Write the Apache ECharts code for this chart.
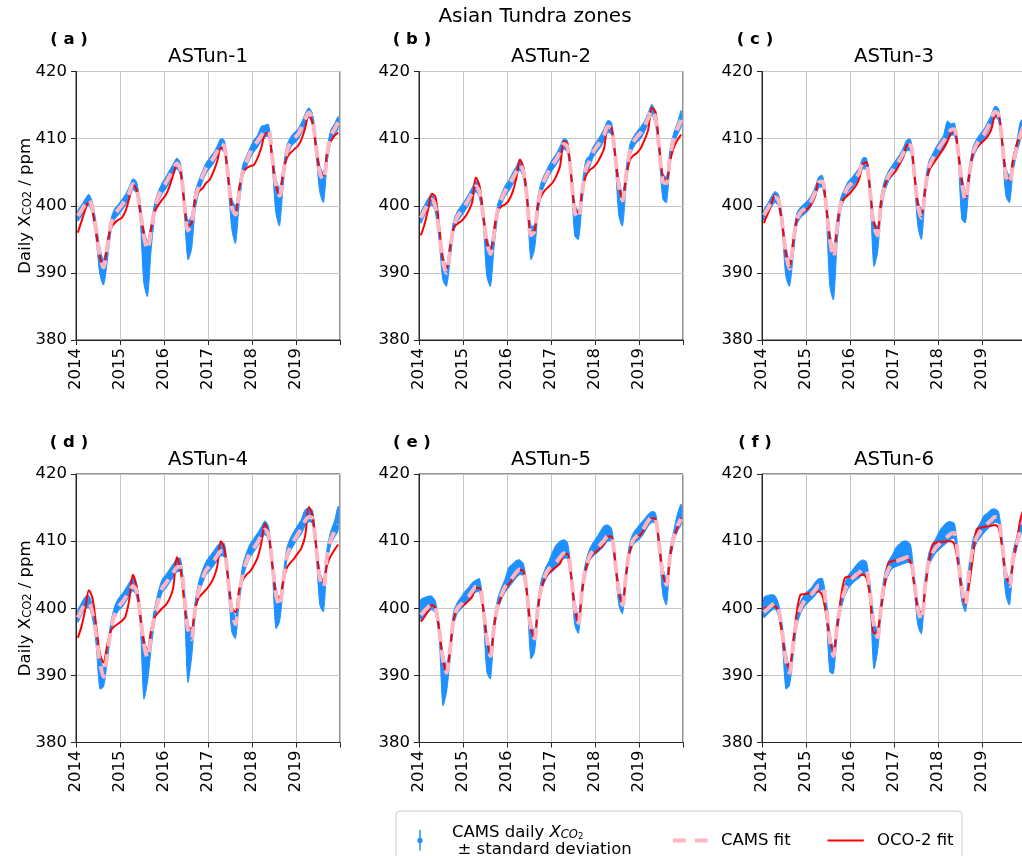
<!DOCTYPE html>
<html>
<head>
<meta charset="utf-8">
<script src="https://cdn.jsdelivr.net/npm/echarts/dist/echarts.min.js"></script>
<style>
html, body { margin: 0; padding: 0; background: #ffffff; }
#chart { width: 1022px; height: 856px; }
</style>
</head>
<body>
<div id="chart"></div>
<script>
// Asian Tundra zones: monthly CAMS and OCO-2 XCO2 (ppm), Jan 2014 .. Dec 2019
const zoneNames = ['ASTun-1', 'ASTun-2', 'ASTun-3', 'ASTun-4', 'ASTun-5', 'ASTun-6'];
const panelTags = ['( a )', '( b )', '( c )', '( d )', '( e )', '( f )'];
const yearTicks = [2014, 2015, 2016, 2017, 2018, 2019];

// ASTun-1
const camsFit1 = [
  398.5, 399.3, 400.2, 400.9, 399.6, 396.3, 392.6, 390.8, 393.6, 397.2, 398.7, 399.4,
  400.1, 400.9, 401.9, 403.2, 402.7, 399.3, 395.6, 393.5, 396.4, 399.6, 401.4, 402.6,
  403.4, 404.4, 405.4, 406.3, 405.4, 400.6, 396.3, 397.3, 401.1, 402.9, 404.4, 405.6,
  406.4, 407.1, 408.1, 409.2, 408.8, 404.3, 399.8, 398.7, 401.9, 405.2, 406.6, 407.9,
  408.9, 409.6, 410.4, 411.1, 411.2, 407.3, 403.1, 401.5, 404.6, 408.1, 409.4, 410.1,
  410.6, 411.6, 412.9, 413.9, 412.8, 408.7, 404.9, 403.8, 407.6, 410.4, 411.4, 412.4];
const oco2Fit1 = [
  396.0, 397.7, 399.4, 400.6, 399.2, 395.9, 392.4, 390.9, 394.2, 396.7, 397.4, 397.9,
  398.2, 399.2, 401.1, 403.1, 402.4, 399.2, 395.9, 394.3, 396.7, 399.2, 400.1, 400.9,
  401.6, 402.9, 404.6, 406.1, 405.1, 400.6, 397.0, 397.4, 400.9, 402.1, 402.6, 403.4,
  403.9, 405.1, 406.6, 408.6, 408.4, 404.1, 399.9, 399.1, 402.6, 404.9, 405.6, 405.9,
  406.1, 407.1, 408.6, 410.6, 410.9, 406.9, 403.1, 401.6, 405.1, 407.1, 407.9, 408.4,
  408.9, 409.9, 411.6, 413.6, 412.4, 408.6, 405.1, 404.4, 408.1, 409.6, 410.4, 410.9];
const camsDaily1 = [
  398.5, 399.3, 400.2, 400.9, 399.6, 396.2, 391.8, 390.1, 393.1, 397.0, 398.7, 399.4,
  400.1, 400.9, 401.9, 403.2, 402.7, 399.2, 392.6, 390.6, 395.5, 399.5, 401.4, 402.6,
  403.4, 404.4, 405.4, 406.3, 405.4, 400.5, 394.9, 396.0, 400.8, 402.9, 404.4, 405.6,
  406.4, 407.1, 408.1, 409.2, 408.8, 404.2, 398.8, 397.2, 401.6, 405.2, 406.6, 407.9,
  408.9, 409.6, 410.7, 411.1, 411.2, 407.2, 401.6, 399.8, 404.3, 408.1, 409.4, 410.1,
  410.6, 411.6, 412.9, 413.9, 412.8, 408.6, 404.0, 402.7, 407.5, 410.4, 411.4, 412.4];
const camsSd1 = [
  0.8, 0.8, 0.8, 0.8, 0.9, 1.2, 2.0, 1.9, 1.5, 1.0, 0.8, 0.8,
  0.8, 0.8, 0.9, 0.8, 0.9, 1.2, 4.1, 4.1, 2.0, 1.0, 0.8, 0.8,
  0.9, 0.9, 0.8, 0.8, 0.9, 1.2, 2.9, 2.5, 1.4, 0.9, 0.8, 0.8,
  0.8, 0.8, 0.8, 0.8, 0.9, 1.1, 2.3, 2.8, 1.4, 0.9, 0.8, 0.8,
  0.9, 0.9, 1.1, 0.9, 0.9, 1.1, 2.6, 2.8, 1.3, 0.9, 0.8, 0.8,
  0.8, 0.8, 0.8, 0.7, 0.9, 1.1, 2.0, 2.2, 1.1, 0.9, 0.8, 0.9];

// ASTun-2
const camsFit2 = [
  398.2, 399.3, 400.3, 400.9, 399.8, 396.0, 391.8, 390.0, 393.5, 397.0, 398.4, 399.2,
  400.0, 400.9, 401.9, 402.9, 402.0, 398.5, 394.5, 392.8, 396.0, 399.4, 401.0, 402.2,
  403.0, 404.0, 405.0, 406.1, 405.0, 401.0, 395.6, 396.2, 400.5, 402.9, 404.2, 405.3,
  406.2, 407.0, 408.0, 409.2, 408.8, 404.5, 399.0, 398.1, 402.0, 405.5, 406.6, 408.0,
  408.8, 409.6, 410.6, 411.8, 411.5, 407.5, 403.0, 400.8, 404.5, 408.2, 409.5, 410.3,
  410.9, 411.8, 413.0, 414.3, 413.0, 408.5, 403.6, 403.4, 407.5, 410.0, 411.5, 412.8];
const oco2Fit2 = [
  395.6, 397.2, 399.5, 401.8, 401.3, 397.0, 392.0, 390.6, 394.0, 396.8, 397.3, 397.7,
  398.3, 399.2, 400.5, 404.2, 403.0, 398.8, 394.5, 393.5, 396.5, 399.3, 399.9, 400.2,
  400.8, 402.0, 404.0, 406.9, 405.6, 401.0, 396.2, 396.3, 400.3, 401.6, 402.4, 402.9,
  403.5, 404.5, 406.0, 409.6, 409.2, 404.5, 399.5, 399.0, 402.2, 404.4, 405.3, 405.7,
  406.3, 407.3, 408.6, 411.8, 411.6, 407.5, 403.0, 401.1, 404.3, 406.8, 407.5, 407.9,
  408.6, 409.8, 411.3, 414.6, 414.0, 409.0, 404.3, 403.7, 406.7, 408.7, 409.8, 410.6];
const camsDaily2 = [
  398.2, 399.3, 400.3, 400.9, 399.8, 395.9, 390.9, 389.5, 393.3, 397.0, 398.4, 399.2,
  400.0, 400.9, 401.9, 402.9, 402.0, 398.5, 392.5, 390.9, 395.5, 399.4, 401.0, 402.2,
  403.0, 404.0, 405.0, 406.1, 405.0, 400.9, 394.5, 395.3, 400.3, 402.9, 404.2, 405.3,
  406.2, 407.0, 408.0, 409.2, 408.8, 404.5, 397.9, 397.1, 401.8, 405.8, 406.6, 408.0,
  408.8, 409.6, 410.6, 411.8, 411.5, 407.5, 401.3, 399.4, 404.3, 408.2, 409.5, 410.3,
  410.9, 411.8, 413.0, 414.3, 413.0, 408.5, 402.9, 402.4, 407.4, 410.0, 411.5, 413.0];
const camsSd2 = [
  0.8, 0.8, 0.8, 0.8, 0.9, 1.1, 1.9, 1.5, 1.3, 0.9, 0.8, 0.8,
  0.8, 0.8, 0.8, 0.8, 0.9, 1.0, 3.0, 2.9, 1.5, 0.9, 0.8, 0.8,
  0.8, 0.9, 0.8, 0.8, 0.9, 1.1, 2.5, 1.8, 1.3, 0.9, 0.8, 0.8,
  0.8, 0.8, 0.9, 0.8, 0.9, 1.0, 2.4, 2.1, 1.3, 1.0, 0.9, 0.8,
  0.8, 0.9, 0.9, 0.9, 0.9, 1.0, 2.8, 2.4, 1.3, 0.9, 0.8, 0.8,
  0.9, 0.8, 0.8, 0.8, 0.9, 1.0, 1.9, 1.9, 1.1, 0.9, 0.9, 1.2];

// ASTun-3
const camsFit3 = [
  398.6, 399.5, 400.5, 401.3, 400.8, 397.5, 393.0, 390.6, 394.5, 398.0, 399.0, 399.5,
  400.0, 400.8, 402.0, 403.5, 403.6, 400.0, 395.0, 392.3, 397.0, 400.3, 401.7, 402.8,
  403.4, 404.1, 404.9, 406.3, 406.2, 402.0, 397.0, 395.6, 400.5, 403.0, 404.4, 405.2,
  406.0, 406.8, 407.8, 409.0, 409.0, 405.0, 400.0, 398.2, 402.5, 405.7, 406.9, 408.0,
  408.8, 409.6, 410.4, 411.3, 411.4, 408.0, 403.5, 400.8, 404.5, 407.8, 409.1, 409.9,
  410.6, 411.6, 412.7, 414.0, 413.6, 409.5, 404.5, 403.3, 406.3, 408.7, 410.6, 412.0];
const oco2Fit3 = [
  397.4, 398.7, 400.2, 401.6, 400.5, 397.3, 393.0, 390.8, 394.5, 398.0, 398.7, 399.2,
  399.6, 400.3, 401.5, 403.6, 403.5, 400.0, 395.2, 392.8, 397.0, 400.4, 401.1, 401.6,
  402.2, 402.9, 404.0, 406.2, 406.5, 402.3, 397.5, 396.3, 400.8, 403.1, 404.1, 404.6,
  405.2, 406.2, 407.3, 409.0, 409.2, 405.0, 400.3, 398.6, 402.5, 405.2, 406.1, 406.9,
  407.7, 408.5, 409.5, 410.8, 411.2, 408.0, 403.7, 401.1, 404.6, 407.7, 408.6, 409.2,
  409.7, 410.3, 411.3, 413.3, 413.4, 409.5, 404.7, 403.8, 407.0, 409.2, 410.8, 412.0];
const camsDaily3 = [
  398.6, 399.5, 400.5, 401.3, 400.8, 397.4, 391.8, 389.9, 394.0, 398.0, 399.0, 399.5,
  400.0, 400.8, 402.0, 403.5, 403.6, 399.9, 392.1, 389.8, 396.3, 400.3, 401.7, 402.8,
  403.4, 404.1, 404.9, 406.3, 406.2, 401.9, 394.5, 394.9, 400.4, 403.0, 404.4, 405.2,
  406.0, 406.8, 407.8, 409.0, 409.0, 405.0, 399.0, 397.2, 402.4, 405.7, 406.9, 408.0,
  408.8, 409.6, 411.1, 411.3, 411.4, 408.0, 401.3, 399.8, 404.4, 407.8, 409.1, 409.9,
  410.6, 411.6, 412.7, 414.0, 413.6, 409.5, 403.6, 402.5, 406.3, 408.7, 411.2, 412.0];
const camsSd3 = [
  0.8, 0.8, 0.8, 0.8, 0.9, 1.1, 2.3, 1.9, 1.5, 0.9, 0.8, 0.8,
  0.8, 0.8, 0.8, 0.8, 0.9, 1.1, 4.1, 3.8, 1.8, 0.9, 0.8, 0.8,
  0.8, 0.8, 0.8, 0.8, 0.9, 1.1, 3.5, 1.9, 1.2, 0.9, 0.8, 0.8,
  0.8, 0.8, 0.8, 0.8, 0.9, 1.0, 2.0, 2.2, 1.2, 0.9, 0.8, 0.8,
  0.8, 0.9, 1.5, 0.9, 0.9, 1.0, 3.3, 2.3, 1.1, 0.9, 0.8, 0.8,
  0.8, 0.8, 0.8, 0.8, 0.9, 1.0, 2.1, 2.0, 1.1, 0.9, 1.4, 0.9];

// ASTun-4
const camsFit4 = [
  398.6, 399.7, 400.6, 400.8, 399.3, 396.0, 392.0, 389.8, 393.0, 396.8, 399.0, 400.2,
  400.8, 401.6, 402.5, 403.3, 402.6, 399.0, 394.8, 392.6, 396.0, 399.0, 401.3, 403.0,
  403.7, 404.5, 405.3, 406.1, 406.2, 402.0, 397.0, 395.4, 400.0, 402.7, 404.4, 405.7,
  406.3, 407.0, 407.8, 408.5, 408.4, 404.0, 399.5, 397.6, 402.0, 405.2, 407.0, 408.3,
  409.0, 409.8, 410.8, 411.7, 411.0, 406.8, 402.2, 400.3, 404.0, 407.7, 409.2, 410.2,
  411.0, 412.0, 413.0, 413.6, 413.4, 409.0, 404.5, 403.1, 408.0, 410.2, 411.4, 412.5];
const oco2Fit4 = [
  395.6, 397.3, 399.8, 402.7, 401.5, 397.5, 393.3, 391.9, 394.5, 396.7, 397.3, 397.7,
  398.1, 398.8, 401.2, 405.0, 403.2, 399.0, 395.0, 393.8, 396.8, 398.7, 399.4, 400.0,
  400.5, 401.4, 403.0, 407.6, 405.8, 401.0, 397.2, 397.0, 400.0, 401.6, 402.2, 402.8,
  403.5, 404.5, 406.2, 410.0, 408.8, 404.5, 400.2, 399.4, 402.8, 404.2, 405.0, 405.5,
  406.4, 407.5, 409.6, 412.6, 411.2, 406.5, 402.3, 401.5, 404.0, 406.0, 406.8, 407.4,
  408.2, 409.0, 410.8, 415.1, 413.8, 409.3, 404.8, 404.0, 406.5, 407.8, 408.7, 409.5];
const camsDaily4 = [
  398.8, 399.9, 400.8, 401.0, 399.4, 395.8, 390.5, 389.7, 393.0, 397.0, 399.3, 400.5,
  401.1, 401.9, 402.8, 403.6, 402.8, 398.9, 391.2, 391.3, 395.5, 399.2, 401.6, 403.3,
  404.0, 404.8, 405.6, 406.4, 406.4, 401.9, 393.5, 394.5, 399.9, 403.0, 404.7, 406.0,
  406.7, 407.4, 408.2, 408.8, 408.6, 404.0, 398.5, 397.1, 401.9, 405.5, 407.3, 408.6,
  409.4, 410.2, 411.1, 412.0, 411.2, 406.8, 400.1, 399.7, 403.9, 408.0, 409.5, 410.5,
  411.4, 412.2, 413.5, 413.9, 413.6, 409.0, 403.0, 401.8, 407.9, 410.5, 411.8, 413.4];
const camsSd4 = [
  0.9, 0.9, 0.9, 0.9, 0.9, 1.3, 2.5, 1.4, 1.0, 0.9, 0.9, 0.9,
  1.0, 1.0, 1.0, 1.0, 1.0, 1.1, 4.7, 2.3, 1.5, 1.0, 1.0, 1.0,
  1.0, 1.0, 1.0, 1.0, 1.0, 1.1, 4.5, 2.0, 1.1, 1.0, 1.0, 1.0,
  1.1, 1.1, 1.1, 1.0, 1.0, 1.0, 2.0, 1.6, 1.1, 1.0, 1.0, 1.0,
  1.0, 1.0, 1.0, 1.0, 1.0, 1.0, 3.1, 1.7, 1.1, 1.0, 1.0, 1.0,
  1.0, 1.1, 1.2, 1.0, 1.0, 1.0, 2.5, 2.3, 1.1, 1.0, 1.2, 1.8];

// ASTun-5
const camsFit5 = [
  399.0, 399.6, 400.2, 400.6, 400.0, 396.8, 392.5, 390.4, 394.0, 398.6, 400.0, 400.6,
  401.2, 401.8, 402.5, 403.2, 403.2, 400.0, 395.5, 392.9, 397.5, 400.5, 402.0, 403.2,
  403.9, 404.6, 405.3, 405.8, 405.6, 402.0, 397.0, 395.5, 400.5, 403.5, 405.0, 405.9,
  406.3, 406.9, 407.6, 408.2, 408.2, 404.8, 400.0, 397.8, 402.8, 406.0, 407.7, 408.6,
  409.0, 409.5, 410.1, 410.8, 410.7, 407.0, 402.5, 400.5, 405.2, 408.8, 410.2, 410.8,
  411.3, 412.1, 413.0, 413.6, 413.4, 409.5, 405.0, 403.5, 408.0, 410.6, 412.3, 413.3];
const oco2Fit5 = [
  398.0, 398.7, 399.6, 400.5, 400.0, 396.8, 392.5, 390.5, 394.0, 398.4, 399.8, 400.3,
  400.6, 401.1, 401.7, 403.0, 403.0, 400.0, 395.5, 393.0, 397.4, 400.3, 401.7, 402.8,
  403.6, 404.3, 405.0, 405.7, 405.5, 402.0, 397.0, 395.6, 400.3, 403.2, 404.6, 405.3,
  405.8, 406.2, 406.7, 408.0, 408.1, 404.8, 400.0, 397.9, 402.6, 405.8, 407.3, 408.1,
  408.5, 409.0, 409.6, 410.7, 410.7, 407.0, 402.5, 400.6, 405.0, 408.5, 409.9, 410.6,
  411.0, 411.8, 412.7, 413.4, 413.3, 409.5, 405.0, 403.6, 407.8, 410.4, 412.0, 413.5];
const camsDaily5 = [
  399.8, 400.2, 400.6, 400.8, 400.1, 396.7, 389.5, 389.5, 393.8, 398.6, 400.1, 400.8,
  401.5, 402.1, 402.8, 403.3, 403.4, 400.0, 393.5, 391.7, 397.5, 400.6, 402.2, 403.4,
  404.6, 405.2, 405.8, 406.1, 405.7, 402.0, 395.3, 395.0, 400.5, 403.6, 405.1, 406.1,
  407.0, 407.8, 408.4, 408.8, 408.6, 404.8, 399.3, 397.6, 402.8, 406.1, 407.9, 408.8,
  409.4, 410.1, 410.8, 411.2, 410.9, 407.0, 402.0, 400.4, 405.2, 408.9, 410.4, 411.0,
  411.6, 412.3, 413.1, 413.6, 413.4, 409.5, 404.0, 402.5, 408.0, 410.7, 412.8, 414.0];
const camsSd5 = [
  1.5, 1.4, 1.2, 1.0, 0.9, 1.1, 4.0, 2.0, 1.3, 1.0, 0.8, 0.9,
  1.0, 1.0, 1.0, 0.9, 1.0, 1.0, 3.0, 2.2, 1.0, 0.9, 0.9, 1.0,
  1.5, 1.4, 1.3, 1.1, 0.9, 1.0, 2.8, 1.5, 1.0, 0.9, 0.9, 1.0,
  1.5, 1.7, 1.6, 1.4, 1.2, 1.0, 1.8, 1.3, 1.0, 0.9, 0.9, 1.0,
  1.2, 1.4, 1.5, 1.2, 1.0, 1.0, 1.5, 1.2, 1.0, 0.9, 0.9, 1.0,
  1.1, 1.0, 0.9, 0.8, 0.8, 1.0, 2.0, 2.0, 1.0, 0.9, 1.3, 1.5];

// ASTun-6
const camsFit6 = [
  399.4, 399.9, 400.4, 400.7, 399.8, 396.5, 392.3, 390.4, 394.5, 398.2, 400.0, 401.0,
  401.6, 402.1, 402.7, 403.4, 403.4, 400.3, 395.3, 392.9, 397.5, 400.5, 402.5, 403.8,
  404.4, 404.9, 405.3, 405.8, 405.7, 402.2, 397.5, 395.7, 400.5, 404.2, 405.8, 406.7,
  407.0, 407.2, 407.4, 407.6, 407.5, 404.0, 399.8, 398.2, 403.5, 407.0, 408.3, 409.1,
  409.6, 410.1, 410.6, 411.1, 411.2, 407.5, 403.0, 400.5, 405.5, 409.0, 410.5, 411.4,
  412.0, 412.6, 413.1, 413.6, 413.4, 409.5, 404.8, 403.3, 407.5, 409.6, 411.7, 413.3];
const oco2Fit6 = [
  399.9, 400.2, 400.3, 400.3, 399.3, 396.0, 392.5, 391.0, 395.0, 399.5, 402.0, 402.1,
  402.2, 402.3, 402.4, 402.5, 401.8, 399.0, 395.5, 393.6, 397.0, 401.5, 404.4, 404.7,
  404.7, 404.8, 404.9, 405.0, 404.5, 401.5, 396.3, 396.6, 400.0, 403.5, 406.8, 407.0,
  407.2, 407.3, 407.4, 407.4, 406.8, 403.5, 400.0, 399.2, 402.8, 406.8, 409.5, 409.8,
  409.9, 409.9, 410.0, 410.0, 409.5, 406.5, 402.5, 400.6, 403.5, 407.5, 411.7, 412.0,
  412.1, 412.2, 412.3, 412.4, 412.0, 409.0, 404.8, 403.8, 406.9, 410.0, 413.3, 415.0];
const camsDaily6 = [
  400.1, 400.5, 400.8, 400.9, 399.8, 396.4, 390.8, 390.0, 394.3, 398.2, 400.1, 401.1,
  401.7, 402.2, 402.9, 403.5, 403.5, 400.2, 393.5, 392.2, 397.4, 400.6, 402.6, 403.9,
  404.6, 405.2, 405.7, 406.1, 405.9, 402.2, 394.8, 395.1, 400.4, 404.3, 406.0, 406.9,
  407.6, 408.0, 408.3, 408.4, 408.1, 403.9, 399.2, 397.7, 403.4, 407.2, 408.5, 409.4,
  410.2, 410.8, 411.3, 411.6, 411.5, 407.4, 402.5, 400.5, 405.5, 409.2, 410.7, 411.6,
  412.5, 413.0, 413.5, 413.8, 413.5, 409.5, 403.9, 402.4, 407.5, 409.8, 411.9, 413.9];
const camsSd6 = [
  1.5, 1.4, 1.2, 1.0, 0.9, 1.2, 2.8, 1.5, 1.3, 0.9, 0.9, 0.9,
  0.9, 0.9, 1.0, 0.9, 0.9, 1.2, 3.0, 1.9, 1.1, 0.9, 0.9, 1.0,
  1.0, 1.1, 1.2, 1.1, 1.0, 1.2, 3.8, 1.6, 1.1, 1.0, 1.0, 1.0,
  1.4, 1.6, 1.7, 1.6, 1.4, 1.1, 1.7, 1.5, 1.1, 1.0, 1.0, 1.1,
  1.4, 1.5, 1.5, 1.3, 1.1, 1.1, 1.5, 1.0, 1.0, 1.0, 1.0, 1.1,
  1.3, 1.2, 1.2, 1.0, 0.9, 1.0, 1.9, 1.9, 1.0, 0.9, 1.1, 1.6];

const panels = [
  { fit: camsFit1, oco: oco2Fit1, daily: camsDaily1, sd: camsSd1 },
  { fit: camsFit2, oco: oco2Fit2, daily: camsDaily2, sd: camsSd2 },
  { fit: camsFit3, oco: oco2Fit3, daily: camsDaily3, sd: camsSd3 },
  { fit: camsFit4, oco: oco2Fit4, daily: camsDaily4, sd: camsSd4 },
  { fit: camsFit5, oco: oco2Fit5, daily: camsDaily5, sd: camsSd5 },
  { fit: camsFit6, oco: oco2Fit6, daily: camsDaily6, sd: camsSd6 }
];

// mid-month positions in decimal years
const monthTimes = camsFit1.map((_, i) => 2014 + (i + 0.5) / 12);

const FONT = 'DejaVu Sans';
const BLUE = '#1e90ff';
const PINK = '#ffb6c1';
const RED = '#ff0000';
const AXIS_COLOR = '#262626';
const GRID_COLOR = '#c6c6c6';

const colLeft = [76, 419, 762];
const rowTop = [71.5, 474];
const plotW = 264;
const plotH = 268.5;

const grids = [], xAxes = [], yAxes = [], series = [], graphics = [];

panels.forEach((p, k) => {
  const col = k % 3, row = Math.floor(k / 3);
  const left = colLeft[col], top = rowTop[row];
  grids.push({ left: left, top: top, width: plotW, height: plotH, show: true,
    borderColor: AXIS_COLOR, borderWidth: 1, backgroundColor: 'transparent',
    containLabel: false, outerBoundsMode: 'none' });
  xAxes.push({
    type: 'value', gridIndex: k, min: 2014, max: 2020, interval: 1,
    axisLine: { show: true, onZero: false, lineStyle: { color: AXIS_COLOR, width: 1 } },
    axisTick: { show: true, length: 5, inside: false, lineStyle: { color: AXIS_COLOR, width: 1 } },
    axisLabel: { show: true, rotate: 90, margin: 8, fontSize: 16.5, fontFamily: FONT, color: '#000',
      showMinLabel: true, showMaxLabel: true,
      formatter: v => (yearTicks.indexOf(Math.round(v)) >= 0 ? String(Math.round(v)) : '') },
    splitLine: { show: true, lineStyle: { color: GRID_COLOR, width: 1 } }
  });
  yAxes.push({
    type: 'value', gridIndex: k, min: 380, max: 420, interval: 10,
    axisLine: { show: true, onZero: false, lineStyle: { color: AXIS_COLOR, width: 1 } },
    axisTick: { show: true, length: 5, inside: false, lineStyle: { color: AXIS_COLOR, width: 1 } },
    axisLabel: { show: true, margin: 9, fontSize: 16.5, fontFamily: FONT, color: '#000' },
    splitLine: { show: true, lineStyle: { color: GRID_COLOR, width: 1 } }
  });

  // CAMS daily values +/- standard deviation, drawn as a filled envelope
  series.push({
    type: 'custom', xAxisIndex: k, yAxisIndex: k, silent: true, z: 2,
    data: [[2017, 400]],
    renderItem: (params, api) => {
      const upper = [], lower = [];
      for (let i = 0; i < monthTimes.length; i++) {
        upper.push(api.coord([monthTimes[i], p.daily[i] + p.sd[i]]));
        lower.push(api.coord([monthTimes[i], p.daily[i] - p.sd[i]]));
      }
      return {
        type: 'polygon',
        shape: { points: upper.concat(lower.reverse()), smooth: 0.25 },
        style: { fill: BLUE, stroke: BLUE, lineWidth: 1 }
      };
    }
  });
  // OCO-2 fit
  series.push({
    type: 'line', xAxisIndex: k, yAxisIndex: k, silent: true, z: 3,
    data: monthTimes.map((t, i) => [t, p.oco[i]]),
    smooth: 0.3, showSymbol: false, symbol: 'none',
    lineStyle: { color: RED, width: 2 }
  });
  // CAMS fit
  series.push({
    type: 'line', xAxisIndex: k, yAxisIndex: k, silent: true, z: 4,
    data: monthTimes.map((t, i) => [t, p.fit[i]]),
    smooth: 0.3, showSymbol: false, symbol: 'none',
    lineStyle: { color: PINK, width: 4, type: [13, 8], cap: 'butt' }
  });

  // panel title and tag
  graphics.push({ type: 'text', x: left + plotW / 2, y: top - 14.5, silent: true,
    style: { text: zoneNames[k], fontSize: 19.8, fontFamily: FONT, fill: '#000', align: 'center', verticalAlign: 'middle' } });
  graphics.push({ type: 'text', x: left - 7, y: top - 31.5, silent: true,
    style: { text: panelTags[k], fontSize: 16.5, fontWeight: 'bold', fontFamily: FONT, fill: '#000', align: 'center', verticalAlign: 'middle' } });

  if (col === 0) {
    graphics.push({ type: 'text', x: 21, y: top + plotH / 2, rotation: Math.PI / 2, silent: true,
      style: {
        text: '{n|Daily X}{s|CO2}{n| / ppm}',
        align: 'center', verticalAlign: 'middle',
        rich: {
          n: { fontSize: 16.5, fontFamily: FONT, fill: '#000', lineHeight: 26, verticalAlign: 'bottom' },
          s: { fontSize: 11.5, fontFamily: FONT, fill: '#000', lineHeight: 12, verticalAlign: 'bottom' }
        }
      } });
  }
});

// figure title
graphics.push({ type: 'text', x: 535, y: 17, silent: true,
  style: { text: 'Asian Tundra zones', fontSize: 20, fontFamily: FONT, fill: '#000', align: 'center', verticalAlign: 'middle' } });

// legend box
graphics.push({ type: 'rect', silent: true, z: 10,
  shape: { x: 396, y: 811, width: 566, height: 70, r: 4 },
  style: { fill: '#ffffff', stroke: '#cccccc', lineWidth: 1 } });
graphics.push({ type: 'line', silent: true, z: 11,
  shape: { x1: 420, y1: 830, x2: 420, y2: 850.5 },
  style: { stroke: BLUE, lineWidth: 1.5 } });
graphics.push({ type: 'circle', silent: true, z: 11,
  shape: { cx: 420, cy: 840.4, r: 2.6 },
  style: { fill: BLUE } });
graphics.push({ type: 'text', x: 452, y: 827, silent: true, z: 11,
  style: {
    text: '{n|CAMS daily }{i|X}{s|CO}{t|2}',
    align: 'left', verticalAlign: 'middle',
    rich: {
      n: { fontSize: 16.5, fontFamily: FONT, fill: '#000', lineHeight: 28, verticalAlign: 'bottom' },
      i: { fontSize: 16.5, fontFamily: FONT, fontStyle: 'italic', fill: '#000', lineHeight: 28, verticalAlign: 'bottom' },
      s: { fontSize: 11.5, fontFamily: FONT, fontStyle: 'italic', fill: '#000', lineHeight: 13, verticalAlign: 'bottom' },
      t: { fontSize: 8.5, fontFamily: FONT, fill: '#000', lineHeight: 6, verticalAlign: 'bottom' }
    }
  } });
graphics.push({ type: 'text', x: 457.5, y: 850, silent: true, z: 11,
  style: { text: '\u00b1 standard deviation', fontSize: 16.5, fontFamily: FONT, fill: '#000', align: 'left', verticalAlign: 'middle' } });
graphics.push({ type: 'line', silent: true, z: 11,
  shape: { x1: 672.8, y1: 840.4, x2: 707.6, y2: 840.4 },
  style: { stroke: PINK, lineWidth: 4, lineDash: [13, 9], lineCap: 'butt' } });
graphics.push({ type: 'text', x: 721, y: 840.4, silent: true, z: 11,
  style: { text: 'CAMS fit', fontSize: 16.5, fontFamily: FONT, fill: '#000', align: 'left', verticalAlign: 'middle' } });
graphics.push({ type: 'line', silent: true, z: 11,
  shape: { x1: 827.5, y1: 840.4, x2: 863.8, y2: 840.4 },
  style: { stroke: RED, lineWidth: 2 } });
graphics.push({ type: 'text', x: 877, y: 840.4, silent: true, z: 11,
  style: { text: 'OCO-2 fit', fontSize: 16.5, fontFamily: FONT, fill: '#000', align: 'left', verticalAlign: 'middle' } });

const chart = echarts.init(document.getElementById('chart'), null, { renderer: 'canvas' });
chart.setOption({
  animation: false,
  backgroundColor: '#ffffff',
  textStyle: { fontFamily: FONT },
  grid: grids,
  xAxis: xAxes,
  yAxis: yAxes,
  series: series,
  graphic: { elements: graphics }
});
</script>
</body>
</html>
